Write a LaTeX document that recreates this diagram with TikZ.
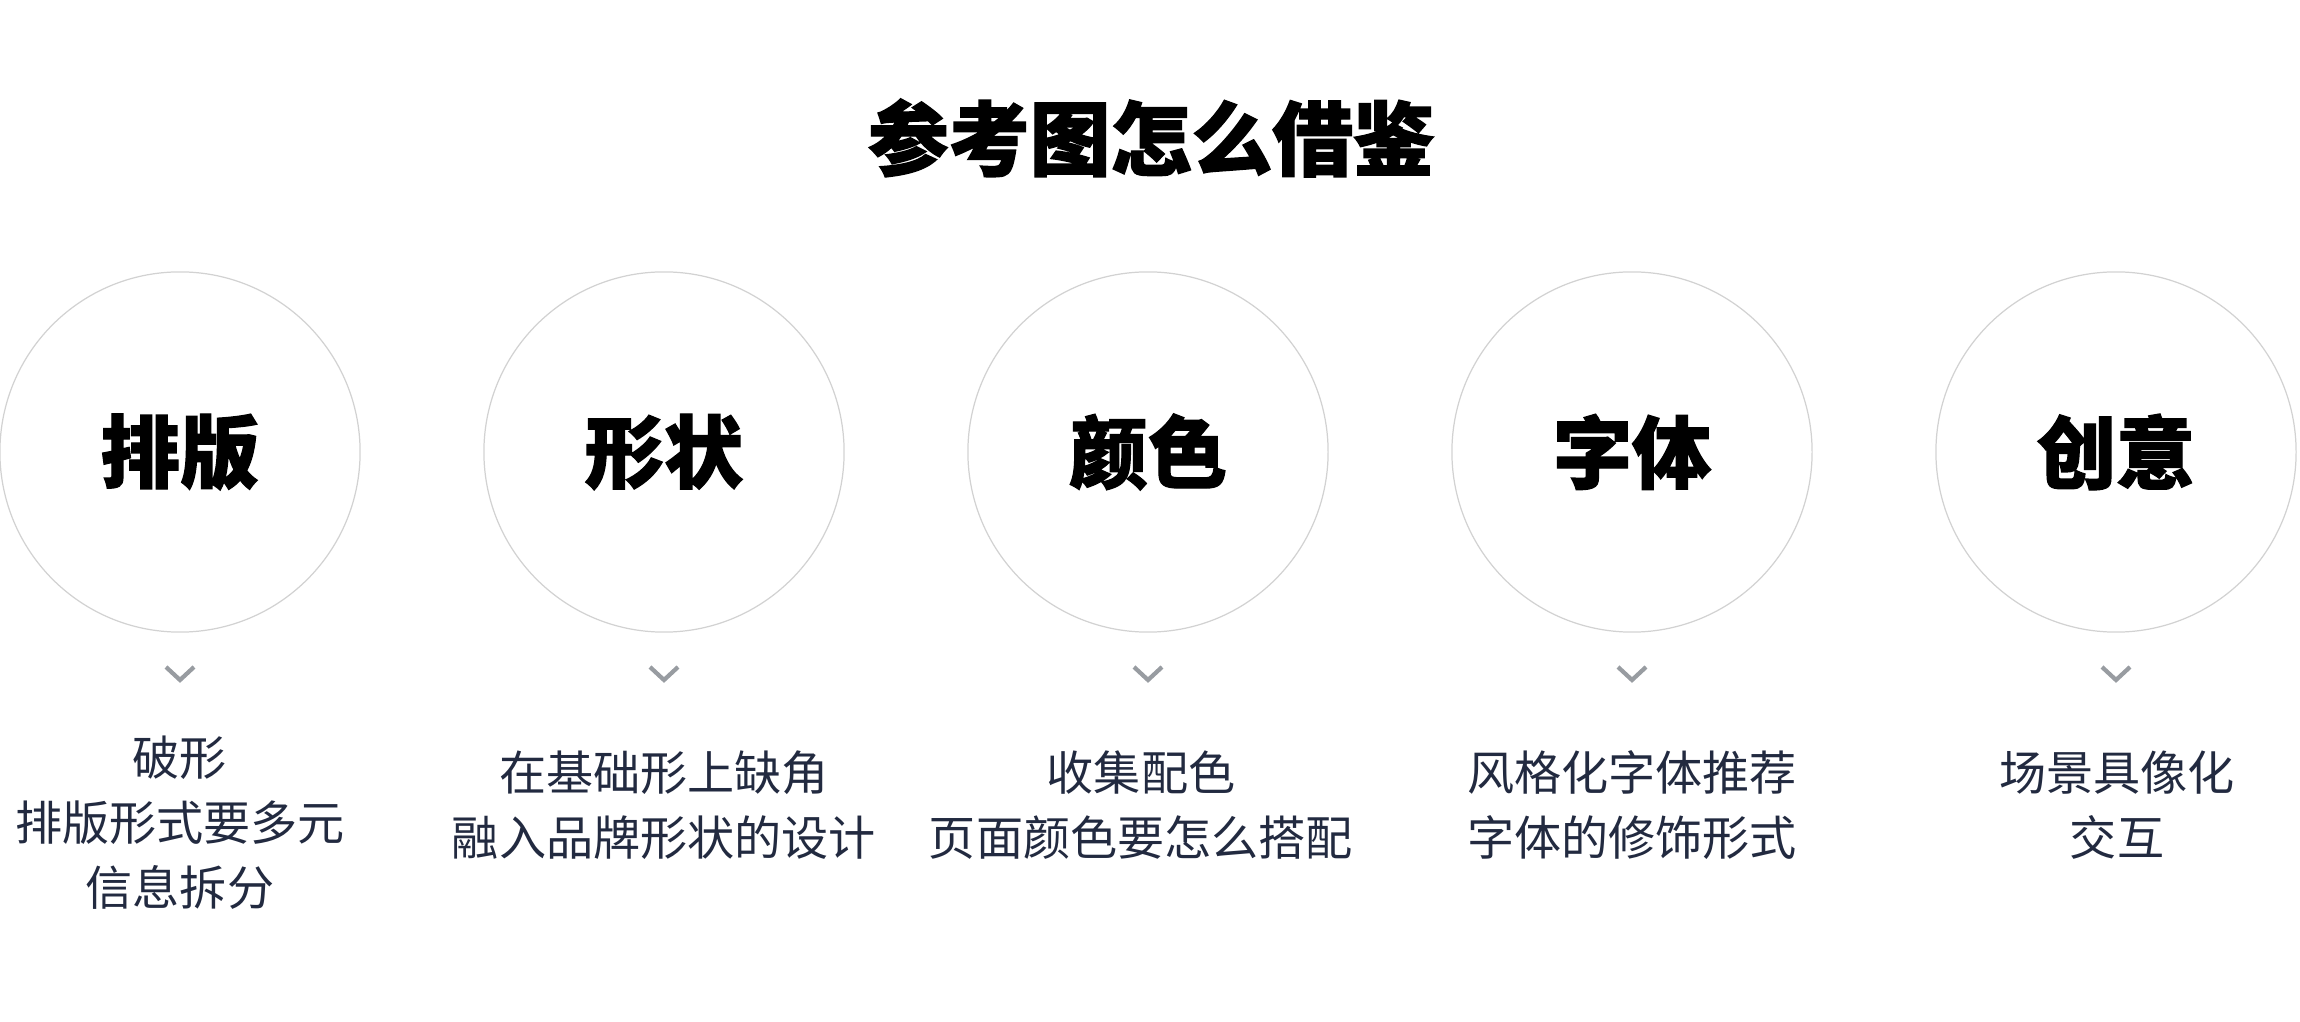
\documentclass[tikz,border=0pt]{standalone}
\usepackage{fontspec}
\usepackage{tikz}
\usetikzlibrary{positioning}
\newfontfamily\cjk{Noto Sans CJK SC}
\newfontfamily\cjkheavy{Noto Sans CJK SC}[BoldFeatures={FakeBold=1.6}]
\definecolor{notenavy}{HTML}{222A40}
\definecolor{ringgray}{HTML}{D2D2D2}
\definecolor{chevgray}{HTML}{989CA1}

\tikzset{
  heading/.style={text=black, font=\cjkheavy\bfseries\fontsize{23}{23}\selectfont},
  topic/.style={circle, draw=ringgray, line width=0.35pt, minimum size=3.6cm,
    inner sep=0pt, text=black, font=\cjkheavy\bfseries\fontsize{22.5}{22.5}\selectfont},
  chevron/.style={draw=chevgray, line width=1.2pt},
  notes/.style={align=center, text=notenavy, font=\cjk\fontsize{13.4}{18.5}\selectfont}
}

\begin{document}
\begin{tikzpicture}[x=0.01cm,y=-0.01cm]
    \useasboundingbox (0,0) rectangle (2300,1022);
    \node[heading] (title) at (1151,138) {参考图怎么借鉴};
    % five topics, each with a small chevron under it
    \foreach \name/\x/\word in {pb/180/排版, xz/664/形状, ys/1148/颜色, zt/1632/字体, cy/2116/创意} {
      \node[topic] (\name) at (\x,452) {\word};
      \draw[chevron] (\x-14,667) -- (\x,680) -- (\x+14,667);
    }
    \node[notes] (pbnote) at (180,823) {破形\\排版形式要多元\\信息拆分};
    \node[notes] (xznote) at (664,805) {在基础形上缺角\\融入品牌形状的设计};
    \node[notes] (ysnote) at (1141,805) {收集配色\\页面颜色要怎么搭配};
    \node[notes] (ztnote) at (1632,805) {风格化字体推荐\\字体的修饰形式};
    \node[notes] (cynote) at (2117,805) {场景具像化\\交互};
\end{tikzpicture}
\end{document}
